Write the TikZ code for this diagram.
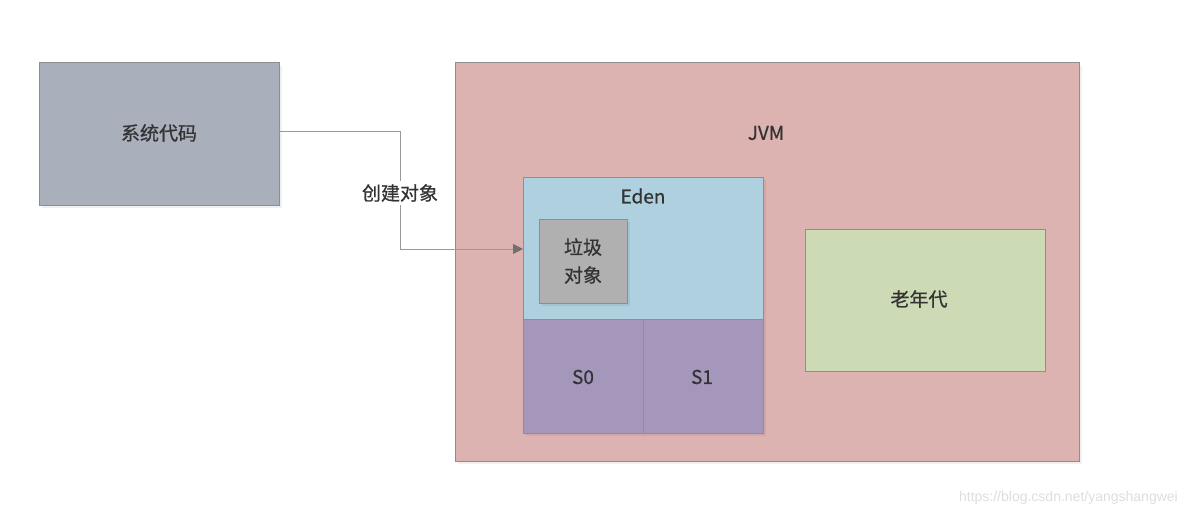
\documentclass[tikz,border=0pt]{standalone}
\usepackage{fontspec}
\setmainfont{Noto Sans CJK SC}[FakeBold=0.7]
\newfontfamily\wmfont{Liberation Sans}
\usetikzlibrary{arrows.meta}
\definecolor{sysfill}{HTML}{A9AFBB}
\definecolor{jvmfill}{HTML}{DDB3B1}
\definecolor{edenfill}{HTML}{AFD0DF}
\definecolor{garbfill}{HTML}{B0B0B0}
\definecolor{survfill}{HTML}{A596BB}
\definecolor{oldfill}{HTML}{CCDAB5}
\definecolor{edgegray}{HTML}{8E8E8E}
\definecolor{txt}{HTML}{333333}
\definecolor{linegray}{HTML}{999999}
\definecolor{tipgray}{HTML}{707070}
\begin{document}
\begin{tikzpicture}[x=1pt,y=-1pt,
  box/.style={draw=edgegray,line width=1pt},
  lbl/.style={text=txt,font=\fontsize{19}{23}\selectfont,inner sep=0pt,align=center},
  shadowbox/.style={fill=black,opacity=0.06}]
\useasboundingbox (0,0) rectangle (1186,516);
\fill[white] (0,0) rectangle (1186,516);
% shadows
\fill[shadowbox] (42,66) rectangle (282,208);
\fill[shadowbox] (458,66) rectangle (1082,464);
\fill[shadowbox] (808,232) rectangle (1048,374);
% boxes
\draw[box,fill=sysfill] (39,63) rectangle (279,205);
\node[lbl] (sys) at (159,133) {系统代码};
\coordinate (sysE) at (279,132);
\draw[box,fill=jvmfill] (455,63) rectangle (1079,461);
\node[lbl] (jvm) at (766,133) {JVM};
\fill[shadowbox] (526,180) rectangle (766,436);
\draw[box,fill=edenfill] (523,177) rectangle (763,319);
\node[lbl] (eden) at (643,196) {Eden};
\coordinate (edenW) at (523,249);
\fill[shadowbox] (542,222) rectangle (630,306);
\draw[box,fill=garbfill] (539,219) rectangle (627,303);
\node[lbl,font=\fontsize{19}{28}\selectfont] (garb) at (583,261) {垃圾\\对象};
\draw[box,fill=survfill] (523,319) rectangle (643,433);
\node[lbl] (s0) at (583,377) {S0};
\draw[box,fill=survfill] (643,319) rectangle (763,433);
\node[lbl] (s1) at (702,377) {S1};
\draw[box,fill=oldfill] (805,229) rectangle (1045,371);
\node[lbl] (old) at (919,299) {老年代};
% connector
\draw[linegray,line width=1pt,-{Triangle[length=10pt,width=10pt,fill=tipgray,color=tipgray]}]
  (sysE) -- (400,132) -- (400,249) -- (edenW);
\node[lbl,fill=white,inner sep=3pt] (create) at (400,193) {创建对象};
% watermark
\node[text=black!13,font=\wmfont\fontsize{14}{16}\selectfont,anchor=east,inner sep=0pt] (wm) at (1178,498) {https://blog.csdn.net/yangshangwei};
\end{tikzpicture}
\end{document}
